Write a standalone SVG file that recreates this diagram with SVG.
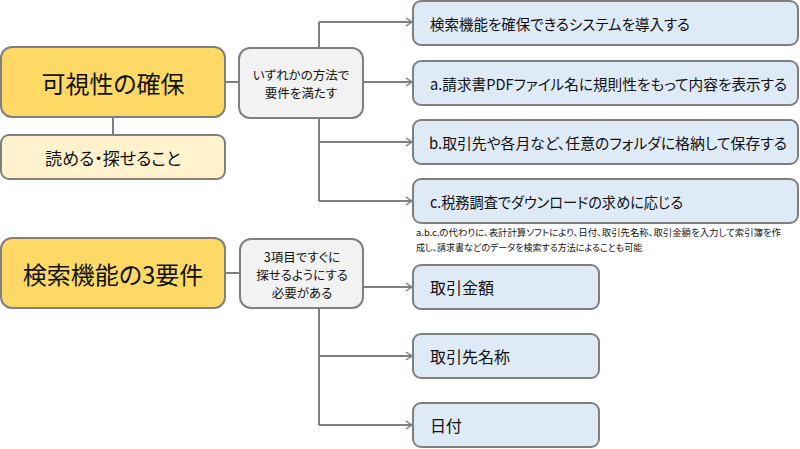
<svg xmlns="http://www.w3.org/2000/svg" width="800" height="449" viewBox="0 0 800 449">
<style>
text{font-family:"Noto Sans CJK JP","Noto Sans",sans-serif;fill:#111;font-feature-settings:"palt";dominant-baseline:central}
.box{stroke:#7f7f7f;stroke-width:2}
.main{fill:#FFD966}
.sub{fill:#FFF2CC}
.mid{fill:#F2F2F2}
.leaf{fill:#DEEAF6}
.big{font-size:24px;text-anchor:middle}
.med{font-size:17px;text-anchor:middle}
.sm{font-size:12.5px;text-anchor:middle}
.lf{font-size:16px}
.lt{font-size:15px}
.note{font-size:9px}
.con{fill:none;stroke:#7f7f7f;stroke-width:2}
</style>
<defs>
<marker id="ah" markerWidth="10" markerHeight="10" refX="8" refY="5" orient="auto" markerUnits="userSpaceOnUse">
<path d="M2,1 L8,5 L2,9" fill="none" stroke="#7f7f7f" stroke-width="1.5"/>
</marker>
</defs>
<g id="connectors">
<line class="con" x1="113" y1="117" x2="113" y2="135"/>
<line class="con" x1="225" y1="82" x2="240" y2="82"/>
<line class="con" x1="319" y1="22" x2="319" y2="201"/>
<line class="con" x1="319" y1="22" x2="412" y2="22" marker-end="url(#ah)"/>
<line class="con" x1="363" y1="82" x2="412" y2="82" marker-end="url(#ah)"/>
<line class="con" x1="319" y1="142" x2="412" y2="142" marker-end="url(#ah)"/>
<line class="con" x1="319" y1="201" x2="412" y2="201" marker-end="url(#ah)"/>
<line class="con" x1="225" y1="273" x2="240" y2="273"/>
<line class="con" x1="319" y1="308" x2="319" y2="425"/>
<line class="con" x1="363" y1="287" x2="412" y2="287" marker-end="url(#ah)"/>
<line class="con" x1="319" y1="356" x2="412" y2="356" marker-end="url(#ah)"/>
<line class="con" x1="319" y1="425" x2="412" y2="425" marker-end="url(#ah)"/>
</g>
<g id="visibility">
<rect class="box main" x="1" y="47" width="224" height="70" rx="11"/>
<text class="big" x="113" y="82">可視性の確保</text>
</g>
<g id="readable">
<rect class="box sub" x="1" y="135" width="224" height="44" rx="8"/>
<text class="med" x="113" y="157">読める・探せること</text>
</g>
<g id="either">
<rect class="box mid" x="239" y="48" width="124" height="70" rx="11"/>
<text class="sm" x="301" y="74">いずれかの方法で</text>
<text class="sm" x="301" y="92">要件を満たす</text>
</g>
<g id="system">
<rect class="box leaf" x="413" y="1" width="385" height="44" rx="8"/>
<text class="lt" x="430" y="23" textLength="260" lengthAdjust="spacingAndGlyphs">検索機能を確保できるシステムを導入する</text>
</g>
<g id="opt-a">
<rect class="box leaf" x="413" y="61" width="385" height="44" rx="8"/>
<text class="lt" x="430" y="83" textLength="357" lengthAdjust="spacingAndGlyphs">a.請求書PDFファイル名に規則性をもって内容を表示する</text>
</g>
<g id="opt-b">
<rect class="box leaf" x="413" y="120" width="385" height="44" rx="8"/>
<text class="lt" x="429" y="142" textLength="358" lengthAdjust="spacingAndGlyphs">b.取引先や各月など、任意のフォルダに格納して保存する</text>
</g>
<g id="opt-c">
<rect class="box leaf" x="413" y="179" width="385" height="44" rx="8"/>
<text class="lt" x="430" y="201" textLength="253" lengthAdjust="spacingAndGlyphs">c.税務調査でダウンロードの求めに応じる</text>
</g>
<g id="note">
<text class="note" x="416" y="232" textLength="365" lengthAdjust="spacingAndGlyphs">a.b.c.の代わりに、表計計算ソフトにより、日付、取引先名称、取引金額を入力して索引簿を作</text>
<text class="note" x="416" y="247">成し、請求書などのデータを検索する方法によることも可能</text>
</g>
<g id="search3">
<rect class="box main" x="1" y="238" width="224" height="70" rx="11"/>
<text class="big" x="113" y="273">検索機能の3要件</text>
</g>
<g id="three">
<rect class="box mid" x="240" y="239" width="123" height="69" rx="11"/>
<text class="sm" x="302" y="256">3項目ですぐに</text>
<text class="sm" x="302" y="274">探せるようにする</text>
<text class="sm" x="302" y="292">必要がある</text>
</g>
<g id="amount">
<rect class="box leaf" x="413" y="265" width="186" height="44" rx="8"/>
<text class="lf" x="430" y="287" font-size="17">取引金額</text>
</g>
<g id="partner">
<rect class="box leaf" x="413" y="334" width="186" height="44" rx="8"/>
<text class="lf" x="430" y="356">取引先名称</text>
</g>
<g id="date">
<rect class="box leaf" x="413" y="403" width="186" height="44" rx="8"/>
<text class="lf" x="430" y="425">日付</text>
</g>
</svg>
